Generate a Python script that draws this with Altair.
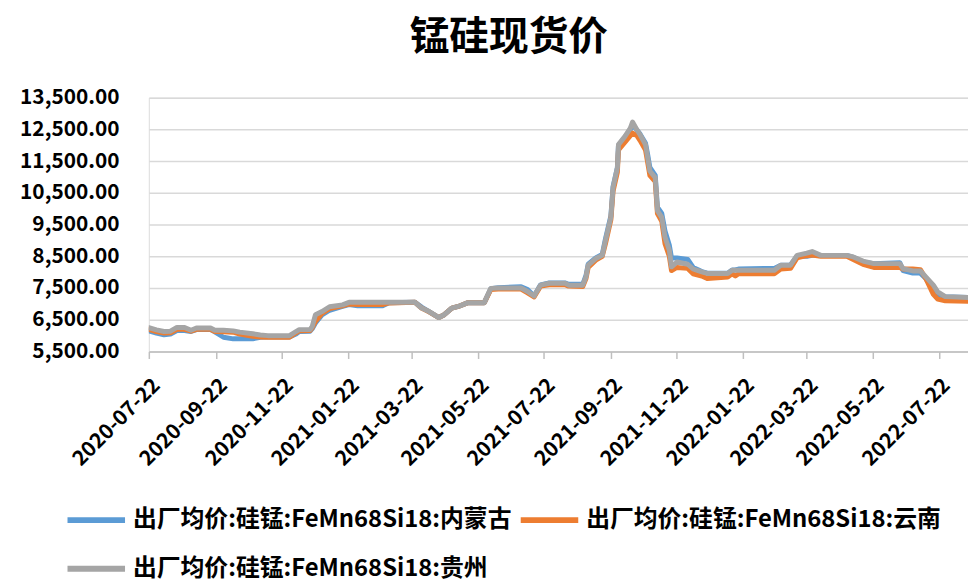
import altair as alt
import pandas as pd

dates = ["2020-07-22","2020-07-29","2020-08-05","2020-08-11","2020-08-17","2020-08-24","2020-08-30","2020-09-04","2020-09-17","2020-09-21",
         "2020-09-29","2020-10-08","2020-10-14","2020-10-26","2020-11-02","2020-11-09","2020-11-29","2020-12-05","2020-12-08","2020-12-18",
         "2020-12-20","2020-12-23","2020-12-29","2021-01-05","2021-01-17","2021-01-23","2021-01-31","2021-02-23","2021-03-01","2021-03-25",
         "2021-03-31","2021-04-07","2021-04-16","2021-04-21","2021-04-28","2021-05-04","2021-05-13","2021-05-28","2021-06-03","2021-06-10",
         "2021-07-01","2021-07-07","2021-07-13","2021-07-19","2021-07-27","2021-08-11","2021-08-14","2021-08-27","2021-08-30","2021-09-01",
         "2021-09-08","2021-09-14","2021-09-17","2021-09-22","2021-09-24","2021-09-28","2021-09-29","2021-10-05","2021-10-10","2021-10-12",
         "2021-10-16","2021-10-19","2021-10-24","2021-10-26","2021-10-28","2021-11-02","2021-11-04","2021-11-08","2021-11-11","2021-11-15",
         "2021-11-17","2021-11-22","2021-12-02","2021-12-07","2021-12-15","2021-12-20","2022-01-08","2022-01-12","2022-01-15","2022-01-18",
         "2022-02-20","2022-02-26","2022-03-07","2022-03-13","2022-03-22","2022-03-27","2022-04-04","2022-04-28","2022-05-04","2022-05-13",
         "2022-05-23","2022-06-16","2022-06-19","2022-06-28","2022-07-05","2022-07-10","2022-07-17","2022-07-21","2022-07-28","2022-08-18"]

guizhou = [6250,6180,6130,6140,6260,6260,6170,6240,6240,6170,
           6170,6150,6110,6060,6020,6000,6000,6130,6190,6190,
           6290,6660,6760,6910,6970,7050,7050,7050,7050,7050,
           6870,6760,6570,6660,6870,6920,7040,7040,7490,7500,
           7500,7390,7250,7590,7650,7650,7590,7590,7850,8220,
           8430,8530,9000,9730,10670,11290,12020,12280,12540,12730,
           12490,12330,12020,11600,11190,10980,9940,9730,9100,8690,
           8170,8320,8250,8100,8010,7960,7960,8060,8060,8060,
           8060,8220,8220,8530,8600,8650,8530,8530,8480,8350,
           8270,8270,8110,8040,8040,7850,7590,7380,7230,7200]

yunnan = [6200,6130,6080,6090,6200,6200,6140,6200,6200,6130,
          6120,6110,6050,5980,5960,5950,5950,6090,6150,6160,
          6250,6450,6700,6850,6940,7000,6980,6980,7030,7050,
          6870,6750,6570,6660,6870,6920,7040,7040,7450,7470,
          7470,7350,7220,7560,7600,7600,7560,7550,7800,8150,
          8380,8500,8900,9650,10550,11150,11850,12100,12300,12380,
          12300,12150,11850,11450,11050,10850,9850,9600,8900,8500,
          8050,8150,8120,7950,7880,7800,7850,7950,7880,7950,
          7950,8100,8120,8450,8520,8540,8500,8500,8400,8250,
          8150,8150,8100,8100,8080,7800,7300,7150,7100,7080]

neimenggu = [6150,6080,6030,6050,6160,6160,6130,6190,6190,6120,
             5950,5900,5900,5900,5950,5960,5960,6050,6130,6140,
             6220,6400,6650,6800,6920,6980,6940,6940,7040,7050,
             6900,6760,6570,6660,6870,6920,7040,7040,7480,7510,
             7540,7450,7250,7600,7660,7660,7620,7620,7900,8250,
             8450,8560,9050,9780,10700,11300,12000,12250,12500,12650,
             12480,12350,12060,11700,11300,11050,10050,9850,9300,8850,
             8450,8450,8400,8150,8020,7970,7970,8070,8070,8100,
             8120,8220,8230,8500,8500,8530,8530,8530,8470,8320,
             8270,8300,8050,7970,7970,7800,7450,7300,7230,7200]

series_names = ["出厂均价:硅锰:FeMn68Si18:内蒙古", "出厂均价:硅锰:FeMn68Si18:云南", "出厂均价:硅锰:FeMn68Si18:贵州"]
series_colors = ["#5b9bd5", "#ed7d31", "#a5a5a5"]
y_ticks = [5500, 6500, 7500, 8500, 9500, 10500, 11500, 12500, 13500]
x_ticks = ["2020-07-22","2020-09-22","2020-11-22","2021-01-22","2021-03-22","2021-05-22","2021-07-22",
           "2021-09-22","2021-11-22","2022-01-22","2022-03-22","2022-05-22","2022-07-22"]
x_start, x_end = "2020-07-22", "2022-08-18"

rows = []
for name, vals in zip(series_names, [neimenggu, yunnan, guizhou]):
    for d, v in zip(dates, vals):
        rows.append({"date": d, "value": v, "series": name})
df = pd.DataFrame(rows)


def dt(s):
    y, m, d = (int(p) for p in s.split("-"))
    return alt.DateTime(year=y, month=m, date=d, utc=True)


FONT = "Noto Sans CJK SC"

x_enc = alt.X("date:T",
              scale=alt.Scale(type="utc", domain=[dt(x_start), dt(x_end)]),
              axis=alt.Axis(values=[dt(s) for s in x_ticks], labelExpr="utcFormat(datum.value, '%Y-%m-%d')",
                            title=None, grid=False, labelAngle=315, labelAlign="right", labelBaseline="top",
                            labelPadding=16, tickSize=7, tickColor="#bfbfbf", tickWidth=1.5,
                            domainColor="#bfbfbf", domainWidth=1.5, labelFont=FONT, labelFontSize=21,
                            labelFontWeight="bold", labelColor="black", labelOverlap=False, labelBound=False,
                            labelFlush=False))
y_enc = alt.Y("value:Q",
              scale=alt.Scale(domain=[5500, 13500], nice=False, zero=False),
              axis=alt.Axis(values=y_ticks, format=",.2f", title=None, domain=False, ticks=False, tickSize=0,
                            labelPadding=30, gridColor="#d9d9d9", gridWidth=1.5, labelFont=FONT,
                            labelFontSize=21, labelFontWeight="bold", labelColor="black"))
color_enc = alt.Color("series:N",
                      scale=alt.Scale(domain=series_names, range=series_colors),
                      legend=alt.Legend(title=None, orient="none", legendX=-85, legendY=394, columns=2,
                                        direction="horizontal",
                                        symbolType="stroke", symbolSize=3364, symbolStrokeWidth=6,
                                        labelFont=FONT, labelFontSize=24, labelFontWeight="bold",
                                        labelColor="black", labelLimit=0, columnPadding=-3, rowPadding=5,
                                        labelOffset=5))

layers = []
for name in series_names:
    layers.append(
        alt.Chart(df).transform_filter(alt.datum.series == name)
        .mark_line(strokeWidth=5, strokeJoin="round", strokeCap="round", clip=True)
        .encode(x=x_enc, y=y_enc, color=color_enc)
    )

chart = alt.layer(*layers).properties(
    width=826, height=256,
    title=alt.TitleParams("锰硅现货价", font=FONT, fontSize=40, fontWeight="bold", color="black",
                          anchor="middle", dx=-50, offset=29),
    padding={"left": 142, "top": 88, "right": 0, "bottom": 228},
    autosize=alt.AutoSizeParams(type="none"),
).configure_view(stroke=None).configure(background="white")

chart.save("out.html", embed_options={"renderer": "svg", "actions": False})
